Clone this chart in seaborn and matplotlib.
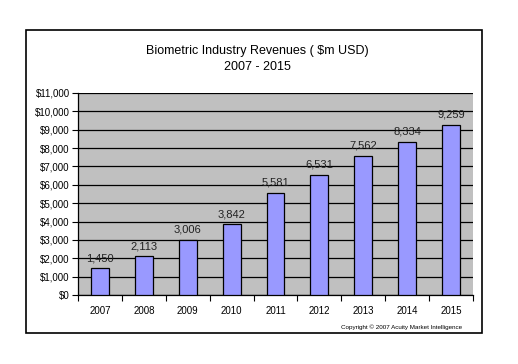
import matplotlib
matplotlib.use("Agg")
import matplotlib.pyplot as plt
import matplotlib.patches as mpatches
import matplotlib.ticker as mticker
import seaborn as sns
import pandas as pd

years = ["2007", "2008", "2009", "2010", "2011", "2012", "2013", "2014", "2015"]
revenues = [1450, 2113, 3006, 3842, 5581, 6531, 7562, 8334, 9259]
y_ticks = list(range(0, 11001, 1000))
title = "Biometric Industry Revenues ( $m USD)\n2007 - 2015"
copyright_text = "Copyright © 2007 Acuity Market Intelligence"

sns.set_theme(style="white")
plt.rcParams['font.family'] = ['Liberation Sans', 'DejaVu Sans']

df = pd.DataFrame({"year": years, "revenue": revenues})

fig = plt.figure(figsize=(5.18, 3.64), dpi=100)
fig.patch.set_facecolor("white")
ax = fig.add_axes([78/518, 1-295/364, 395/518, 202/364])
ax.set_facecolor("#C0C0C0")

sns.barplot(data=df, x="year", y="revenue", color="#9999FF", saturation=1,
            edgecolor="black", linewidth=0.9, width=0.41, ax=ax, zorder=3)

ax.set_ylim(0, 11000)
ax.set_xlim(-0.5, len(years) - 0.5)
ax.set_yticks(y_ticks)
ax.yaxis.set_major_formatter(mticker.FuncFormatter(lambda v, p: f"${int(v):,}"))
ax.grid(axis="y", color="black", linewidth=0.9, zorder=1)
ax.set_axisbelow(True)
ax.set_xlabel("")
ax.set_ylabel("")

ax.set_xticks(range(len(years)))
ax.set_xticklabels(years)
ax.set_xticks([i - 0.5 for i in range(len(years) + 1)], minor=True)
ax.tick_params(axis="x", which="major", length=0, labelsize=7, pad=8, colors="black")
ax.tick_params(axis="x", which="minor", length=4, width=0.8, direction="out", bottom=True, color="black")
ax.tick_params(axis="y", which="major", length=4, width=0.8, direction="out", left=True, labelsize=7, pad=2, colors="black")

for s in ["top", "right"]:
    ax.spines[s].set_visible(False)
ax.spines["left"].set_color("black")
ax.spines["left"].set_linewidth(0.9)
ax.spines["bottom"].set_color("black")
ax.spines["bottom"].set_linewidth(0.9)

for i, v in enumerate(revenues):
    ax.text(i, v + 280, f"{v:,}", ha="center", va="bottom", fontsize=8, color="#222222", zorder=4)

fig.text(257/518, 1-59/364, title, ha="center", va="center", fontsize=9, color="black", linespacing=1.4)
fig.text(462/518, 1-327/364, copyright_text, ha="right", va="center", fontsize=4.5, color="black")

frame = mpatches.Rectangle((26/518, 1-333/364), (482-26)/518, (333-30)/364,
                           transform=fig.transFigure, fill=False, edgecolor="black", linewidth=1.2)
fig.patches.append(frame)

fig.savefig("out.png", dpi=100)
